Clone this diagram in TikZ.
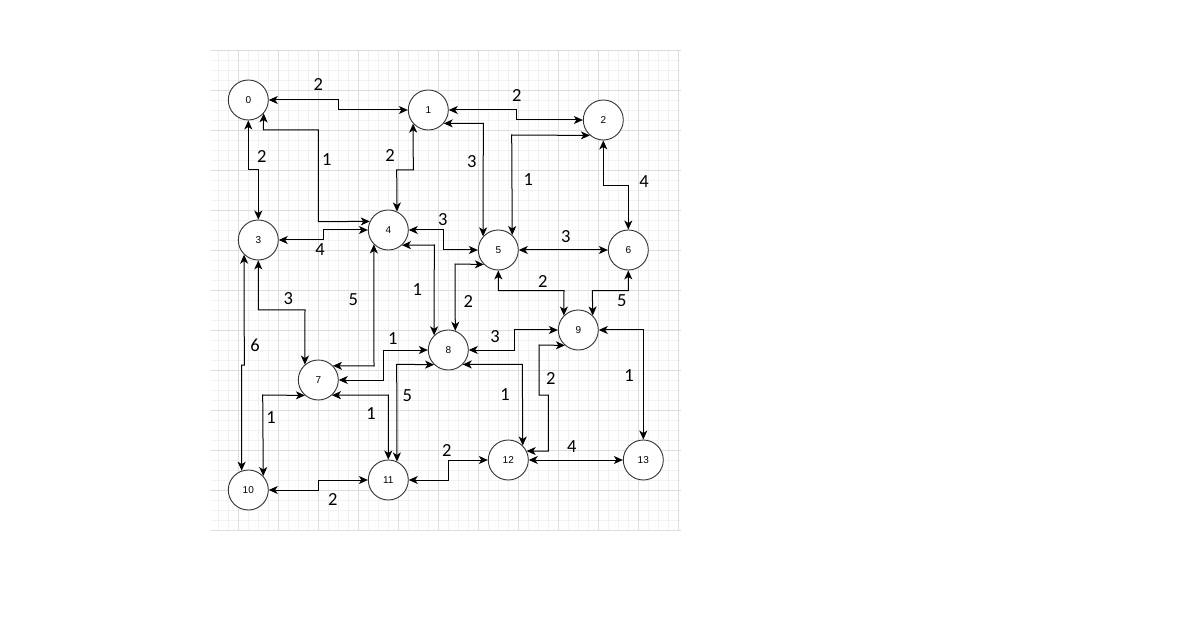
\documentclass[tikz,border=0pt]{standalone}
\usepackage{fontspec}
\setmainfont{Carlito}
\newfontfamily\nodefont{Liberation Sans}
\usetikzlibrary{arrows.meta}
\definecolor{gmajor}{HTML}{DDDDDD}
\definecolor{gminor}{HTML}{F1F1F1}
\definecolor{circ}{HTML}{333333}
\tikzset{
  vtx/.style={circle, draw=circ, line width=0.9pt, minimum size=40pt, inner sep=0pt, fill=white, font=\nodefont\fontsize{10pt}{11pt}\selectfont},
  conn/.style={line width=1pt, {Stealth[length=9pt,width=8pt,inset=2.5pt]}-{Stealth[length=9pt,width=8pt,inset=2.5pt]}},
  wlabel/.style={font=\fontsize{18.5pt}{20pt}\selectfont, inner sep=0pt}
}
\begin{document}
\begin{tikzpicture}[x=1pt,y=-1pt]
\useasboundingbox (0,0) rectangle (1186,628);
\fill[white] (0,0) rectangle (1186,628);
% grid
\foreach \x in {218.3,228.3,...,678.4} \draw[gminor, line width=0.8pt] (\x,50) -- (\x,530);
\foreach \y in {60,70,...,521} \draw[gminor, line width=0.8pt] (211,\y) -- (681,\y);
\foreach \x in {238.3,278.3,...,678.4} \draw[gmajor, line width=0.8pt] (\x,50) -- (\x,530);
\foreach \y in {50,90,...,531} \draw[gmajor, line width=0.8pt] (211,\y) -- (681,\y);
% nodes
\node[vtx] (n0) at (248.3,100) {0};
\node[vtx] (n1) at (428.3,110) {1};
\node[vtx] (n2) at (603.3,120) {2};
\node[vtx] (n3) at (258.3,240) {3};
\node[vtx] (n4) at (388.3,230) {4};
\node[vtx] (n5) at (498.3,250) {5};
\node[vtx] (n6) at (628.3,250) {6};
\node[vtx] (n7) at (318.3,380) {7};
\node[vtx] (n8) at (448.3,350) {8};
\node[vtx] (n9) at (578.3,330) {9};
\node[vtx] (n10) at (248.3,490) {10};
\node[vtx] (n11) at (388.3,480) {11};
\node[vtx] (n12) at (508.3,460) {12};
\node[vtx] (n13) at (643.3,460) {13};
% connectors
\draw[conn] (n0.east) -- (338.3,100) -- (338.3,110) -- (n1.west);
\draw[conn] (n0.south) -- (248.3,170) -- (258.3,170) -- (n3.north);
\draw[conn] (n0.-41.4) -- (263.3,130) -- (318.3,130) -- (318.3,221.7) -- (n4.155.5);
\draw[conn] (n3.east) -- (323.3,240) -- (323.3,230) -- (n4.west);
\draw[conn] (n1.-138.6) -- (413.3,170) -- (396.7,170) -- (n4.65.2);
\draw[conn] (n1.east) -- (516.7,110) -- (516.7,120) -- (n2.west);
\draw[conn] (n1.-41.8) -- (483.3,123.3) -- (n5.138.6);
\draw[conn] (n2.-131.3) -- (511.7,135) -- (n5.47.9);
\draw[conn] (n2.south) -- (603.3,185.7) -- (628.3,185.7) -- (n6.north);
\draw[conn] (n4.east) -- (443.3,230) -- (443.3,250) -- (n5.west);
\draw[conn] (n5.east) -- (n6.west);
\draw[conn] (n4.-48.6) -- (434.3,245) -- (n8.134.4);
\draw[conn] (n5.-135.6) -- (455,264) -- (n8.70.4);
\draw[conn] (n5.south) -- (498.3,290.7) -- (564,290.7) -- (n9.135.6);
\draw[conn] (n6.south) -- (628.3,290.7) -- (592.3,290.7) -- (n9.45.6);
\draw[conn] (n8.east) -- (514,350) -- (514,330) -- (n9.west);
\draw[conn] (n9.-131.3) -- (539,345) -- (539,395) -- (548.3,395) -- (548.3,451) -- (n12.26.7);
\draw[conn] (n9.east) -- (643.3,330) -- (n13.north);
\draw[conn] (n8.-45.6) -- (522.3,364.3) -- (n12.45.6);
\draw[conn] (n12.east) -- (n13.west);
\draw[conn] (n11.east) -- (448.3,480) -- (448.3,460) -- (n12.west);
\draw[conn] (n10.east) -- (318.3,490) -- (318.3,480) -- (n11.west);
\draw[conn] (n3.-134.4) -- (244.3,365) -- (241.7,365) -- (n10.109.3);
\draw[conn] (n3.south) -- (258.3,310) -- (305,310) -- (n7.131.8);
\draw[conn] (n4.-135.6) -- (374,366) -- (n7.44.4);
\draw[conn] (n7.east) -- (383.3,380) -- (383.3,350) -- (n8.west);
\draw[conn] (n8.-134.4) -- (396.7,364.3) -- (n11.65.2);
\draw[conn] (n7.-131.3) -- (262.7,395) -- (n10.43.9);
\draw[conn] (n7.-48.7) -- (388.3,395) -- (n11.north);
% labels
\node[wlabel] (l01) at (318.3,85) {2};
\node[wlabel] (l03) at (261.7,156.7) {2};
\node[wlabel] (l04) at (326.7,160) {1};
\node[wlabel] (l34) at (320,250) {4};
\node[wlabel] (l14) at (390,155) {2};
\node[wlabel] (l12) at (516.7,95) {2};
\node[wlabel] (l15) at (471.7,161.7) {3};
\node[wlabel] (l25) at (528.3,180) {1};
\node[wlabel] (l26) at (644,181.7) {4};
\node[wlabel] (l45) at (442.7,220) {3};
\node[wlabel] (l56) at (565.7,236.7) {3};
\node[wlabel] (l48) at (417.3,289.3) {1};
\node[wlabel] (l58) at (468.3,301) {2};
\node[wlabel] (l59) at (542.7,281) {2};
\node[wlabel] (l69) at (621.7,301) {5};
\node[wlabel] (l89) at (495,336.7) {3};
\node[wlabel] (l912) at (550.7,378.3) {2};
\node[wlabel] (l913) at (629,376) {1};
\node[wlabel] (l812) at (505,395) {1};
\node[wlabel] (l1213) at (571.7,446.7) {4};
\node[wlabel] (l1112) at (446.7,450) {2};
\node[wlabel] (l1011) at (332.7,499) {2};
\node[wlabel] (l310) at (255,345) {6};
\node[wlabel] (l37) at (288.3,298.3) {3};
\node[wlabel] (l47) at (353.3,300) {5};
\node[wlabel] (l78) at (392.7,338.3) {1};
\node[wlabel] (l811) at (407.3,396) {5};
\node[wlabel] (l710) at (271,417.3) {1};
\node[wlabel] (l711) at (371,413.3) {1};
\end{tikzpicture}
\end{document}
